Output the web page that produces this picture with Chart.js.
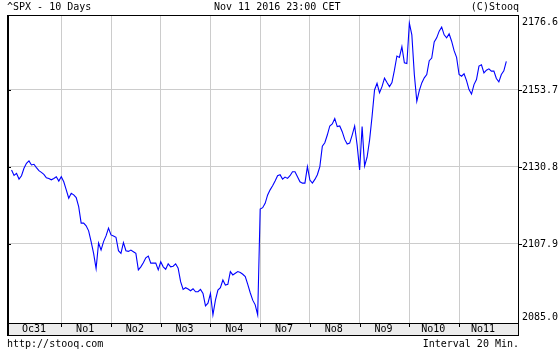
<!DOCTYPE html>
<html>
<head>
<meta charset="utf-8">
<script src="https://cdn.jsdelivr.net/npm/chart.js@4.4.0/dist/chart.umd.min.js"></script>
<style>
  body { margin: 0; background: #fff; }
  canvas { display: block; }
</style>
</head>
<body>
<canvas id="spx" width="560" height="350"></canvas>
<script>
// ^SPX, 20 minute closes, 20 bars per session
const days = ['Oc31', 'No1', 'No2', 'No3', 'No4', 'No7', 'No8', 'No9', 'No10', 'No11'];

const oct31 = [2129.9, 2128.3, 2128.9, 2127.2, 2128.2, 2130.4, 2131.9, 2132.6, 2131.4, 2131.6, 2130.6, 2129.7, 2129.2, 2128.6, 2127.6, 2127.4, 2127.0, 2127.4, 2127.9, 2126.6];
const nov1  = [2127.9, 2126.4, 2124.0, 2121.5, 2123.0, 2122.5, 2121.7, 2119.0, 2114.1, 2114.1, 2113.3, 2111.8, 2108.6, 2105.1, 2100.6, 2108.2, 2106.1, 2108.6, 2110.3, 2112.6];
const nov2  = [2110.6, 2110.3, 2109.9, 2105.9, 2105.1, 2108.3, 2105.9, 2105.7, 2106.1, 2105.6, 2105.1, 2100.2, 2101.1, 2102.3, 2103.8, 2104.3, 2102.2, 2102.2, 2102.2, 2100.2];
const nov3  = [2102.6, 2101.1, 2100.4, 2102.0, 2101.1, 2101.3, 2102.0, 2100.7, 2096.7, 2094.4, 2094.9, 2094.5, 2094.0, 2094.6, 2093.7, 2093.7, 2094.4, 2093.2, 2089.5, 2090.3];
const nov4  = [2093.2, 2086.8, 2091.2, 2094.2, 2094.9, 2097.2, 2095.7, 2095.9, 2099.7, 2098.7, 2099.2, 2099.7, 2099.4, 2098.9, 2098.2, 2095.9, 2093.4, 2091.2, 2089.8, 2086.8];
const nov7  = [2118.3, 2118.7, 2120.0, 2122.5, 2124.0, 2125.2, 2126.6, 2128.2, 2128.5, 2127.2, 2127.8, 2127.4, 2128.2, 2129.4, 2129.4, 2127.9, 2126.4, 2126.0, 2126.0, 2130.9];
const nov8  = [2126.9, 2126.0, 2127.1, 2128.5, 2130.9, 2137.0, 2138.0, 2140.3, 2143.0, 2143.6, 2145.2, 2142.8, 2143.0, 2141.3, 2139.0, 2137.6, 2137.9, 2140.3, 2143.0, 2137.3];
const nov9  = [2129.9, 2142.8, 2131.1, 2133.7, 2138.8, 2145.8, 2153.7, 2155.7, 2152.9, 2154.7, 2157.2, 2155.9, 2154.7, 2155.9, 2159.6, 2163.8, 2163.4, 2166.6, 2161.8, 2161.6];
const nov10 = [2173.6, 2170.1, 2158.3, 2150.3, 2153.5, 2155.8, 2157.3, 2158.3, 2162.4, 2163.2, 2168.0, 2169.2, 2171.2, 2172.4, 2170.1, 2169.2, 2170.4, 2168.2, 2165.4, 2163.4];
const nov11 = [2158.3, 2157.8, 2158.5, 2156.5, 2153.8, 2152.5, 2155.3, 2156.8, 2160.8, 2161.2, 2158.8, 2159.6, 2160.0, 2159.3, 2159.3, 2157.1, 2156.1, 2158.3, 2159.4, 2162.2];

const yTicks = [2085.0, 2107.9, 2130.8, 2153.7, 2176.6];

const PER_DAY = 20;
const sessions = [oct31, nov1, nov2, nov3, nov4, nov7, nov8, nov9, nov10, nov11];
const points = sessions.flat().map((v, i) => ({ x: i, y: v }));
const dayStarts = days.map((d, i) => i * PER_DAY);

const FONT = '10px "DejaVu Sans Mono", "Liberation Mono", monospace';

// frame, date band, price labels and captions
const stooqFrame = {
  id: 'stooqFrame',
  afterDraw(chart) {
    const { ctx, chartArea: a, scales: { x, y } } = chart;
    const bandTop = Math.round(a.bottom);
    const bandBot = bandTop + 12;
    const L = Math.round(a.left), R = Math.round(a.right), T = Math.round(a.top);

    ctx.save();
    ctx.fillStyle = '#ececec';
    ctx.fillRect(L, bandTop, R - L, bandBot - bandTop);

    ctx.strokeStyle = '#000';
    ctx.lineWidth = 1;
    ctx.beginPath();
    ctx.moveTo(L, T + 0.5); ctx.lineTo(R + 1, T + 0.5);
    ctx.moveTo(L, bandTop + 0.5); ctx.lineTo(R + 1, bandTop + 0.5);
    ctx.moveTo(L, bandBot + 0.5); ctx.lineTo(R + 1, bandBot + 0.5);
    ctx.moveTo(R + 0.5, T); ctx.lineTo(R + 0.5, bandBot + 1);
    ctx.stroke();
    ctx.lineWidth = 2;
    ctx.beginPath();
    ctx.moveTo(L, T); ctx.lineTo(L, bandBot + 1);
    ctx.stroke();

    // day ticks and labels
    ctx.lineWidth = 1;
    ctx.beginPath();
    dayStarts.slice(1).forEach(v => {
      const px = Math.round(x.getPixelForValue(v)) + 0.5;
      ctx.moveTo(px, bandTop); ctx.lineTo(px, bandTop + 4);
    });
    ctx.stroke();

    ctx.fillStyle = '#000';
    ctx.font = FONT;
    ctx.textAlign = 'center';
    ctx.textBaseline = 'middle';
    days.forEach((d, i) => {
      const x0 = Math.max(a.left, x.getPixelForValue(dayStarts[i]));
      const x1 = x.getPixelForValue(dayStarts[i] + PER_DAY);
      ctx.fillText(d, (x0 + x1) / 2 - (i === 0 ? 2.5 : 1), bandTop + 6.5);
    });

    // price labels on the right, kept inside the plot height
    ctx.textAlign = 'left';
    ctx.beginPath();
    yTicks.forEach(v => {
      const py = y.getPixelForValue(v);
      const ly = Math.min(Math.max(py, a.top + 7.5), a.bottom - 6);
      ctx.fillText(v.toFixed(1), R + 4, ly);
      if (py > a.top + 2 && py < a.bottom - 4) {
        const ty = Math.round(py) + 0.5;
        ctx.moveTo(R, ty); ctx.lineTo(R + 4, ty);
        ctx.moveTo(L, ty); ctx.lineTo(L + 3, ty);
      }
    });
    ctx.stroke();

    // captions
    ctx.textAlign = 'left';
    ctx.fillText('^SPX - 10 Days', 7, 7.5);
    ctx.fillText('Nov 11 2016 23:00 CET', 214, 7.5);
    ctx.fillText('http://stooq.com', 7, 344);
    ctx.textAlign = 'right';
    ctx.fillText('(C)Stooq', R + 1, 7.5);
    ctx.fillText('Interval 20 Min.', R + 1, 344);
    ctx.restore();
  }
};

new Chart(document.getElementById('spx'), {
  type: 'line',
  data: {
    datasets: [{
      data: points,
      borderColor: '#0000ff',
      borderWidth: 1.1,
      pointRadius: 0,
      tension: 0,
      fill: false
    }]
  },
  options: {
    responsive: false,
    animation: false,
    events: [],
    layout: { autoPadding: false, padding: { left: 8, top: 15, right: 42, bottom: 27 } },
    plugins: { legend: { display: false }, tooltip: { enabled: false } },
    scales: {
      x: {
        type: 'linear',
        min: -1.43,
        max: 203.7,
        afterBuildTicks: s => { s.ticks = dayStarts.slice(1).map(v => ({ value: v })); },
        ticks: { display: false },
        grid: { color: '#cccccc', lineWidth: 1, drawTicks: false },
        border: { display: false }
      },
      y: {
        type: 'linear',
        min: 2084.4,
        max: 2176.0,
        afterBuildTicks: s => { s.ticks = yTicks.slice(1, 4).map(v => ({ value: v })); },
        ticks: { display: false },
        grid: { color: '#cccccc', lineWidth: 1, drawTicks: false },
        border: { display: false }
      }
    }
  },
  plugins: [stooqFrame]
});
</script>
</body>
</html>
